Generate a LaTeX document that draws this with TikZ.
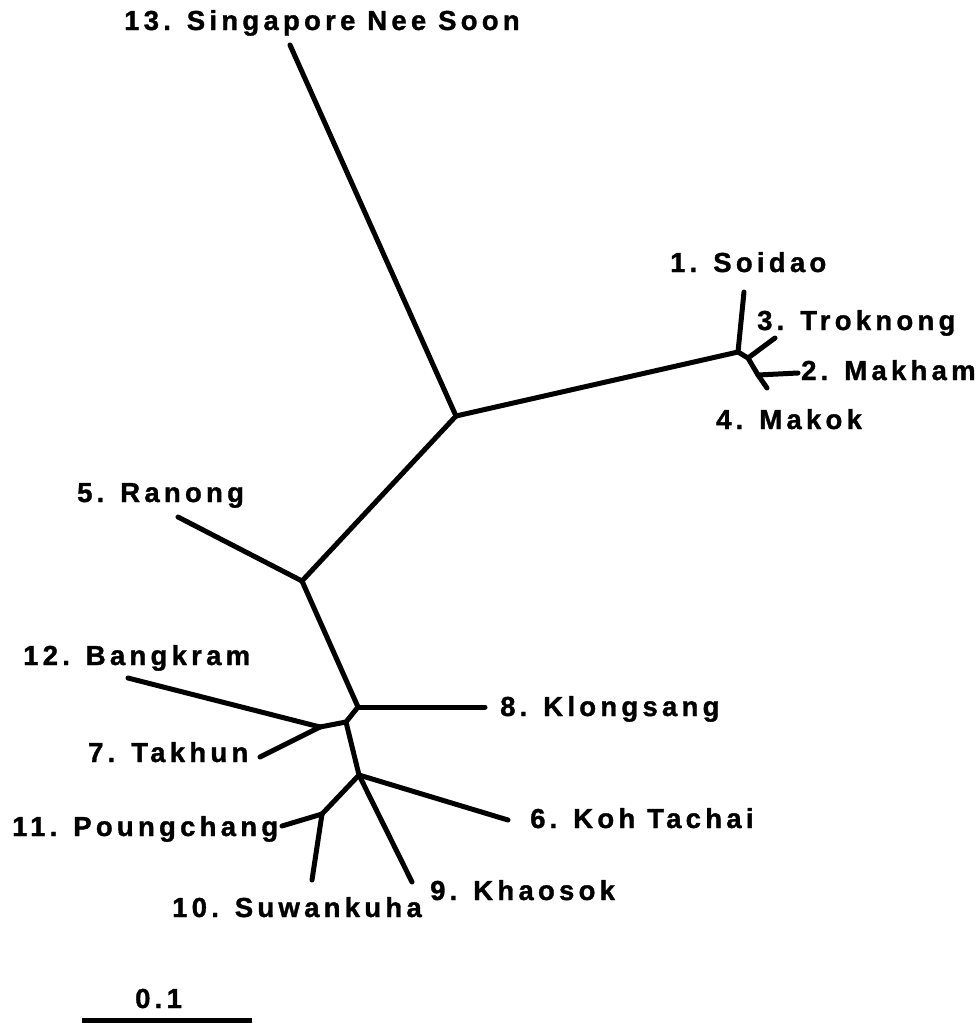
\documentclass[tikz,border=0pt]{standalone}
\usepackage{fontspec}
\newfontfamily\labfont{Liberation Sans}[LetterSpace=15.5, BoldFont={Liberation Sans Bold}, BoldFeatures={FakeBold=1.2}]
\tikzset{
  branch/.style={line width=5pt, line cap=round, line join=round},
  lab/.style={anchor=base west, inner sep=0pt, font=\labfont\bfseries\fontsize{27.5}{30}\selectfont}
}
\begin{document}
\begin{tikzpicture}[x=1pt,y=-1pt]
\useasboundingbox (0,0) rectangle (978,1023);
% internal nodes
\coordinate (R1) at (456,416);
\coordinate (R2) at (302,581);
\coordinate (D) at (358,707);
\coordinate (E) at (346,722);
\coordinate (F) at (320,727);
\coordinate (G) at (359,775);
\coordinate (I) at (322,814);
\coordinate (A) at (738,352);
\coordinate (B) at (748,358);
\coordinate (C) at (758,375);
% tips
\coordinate (t13) at (290,45);
\coordinate (t5) at (178,517);
\coordinate (t1) at (744,292);
\coordinate (t3) at (775,338);
\coordinate (t2) at (798,373);
\coordinate (t4) at (767,388);
\coordinate (t8) at (485,707);
\coordinate (t12) at (128,678);
\coordinate (t7) at (260,757);
\coordinate (t6) at (508,820);
\coordinate (t9) at (412,882);
\coordinate (t11) at (282,826);
\coordinate (t10) at (312,880);
% branches
\draw[branch] (t13) -- (R1);
\draw[branch] (R1) -- (A);
\draw[branch] (R1) -- (R2);
\draw[branch] (A) -- (t1);
\draw[branch] (A) -- (B);
\draw[branch] (B) -- (t3);
\draw[branch] (B) -- (C);
\draw[branch] (C) -- (t4);
\draw[branch] (C) -- (t2);
\draw[branch] (R2) -- (t5);
\draw[branch] (R2) -- (D);
\draw[branch] (D) -- (t8);
\draw[branch] (D) -- (E);
\draw[branch] (E) -- (F);
\draw[branch] (F) -- (t12);
\draw[branch] (F) -- (t7);
\draw[branch] (E) -- (G);
\draw[branch] (G) -- (t6);
\draw[branch] (G) -- (t9);
\draw[branch] (G) -- (I);
\draw[branch] (I) -- (t11);
\draw[branch] (I) -- (t10);
% labels
\node[lab] (l13) at (124,30) {13. Singapore Nee Soon};
\node[lab] (l1) at (670,272) {1. Soidao};
\node[lab] (l3) at (757,330) {3. Troknong};
\node[lab] (l2) at (801,380) {2. Makham};
\node[lab] (l4) at (716,429) {4. Makok};
\node[lab] (l5) at (77,502) {5. Ranong};
\node[lab] (l12) at (23,665) {12. Bangkram};
\node[lab] (l7) at (88,762) {7. Takhun};
\node[lab] (l8) at (500,716) {8. Klongsang};
\node[lab] (l6) at (530,828) {6. Koh Tachai};
\node[lab] (l11) at (12,836) {11. Poungchang};
\node[lab] (l10) at (172,917) {10. Suwankuha};
\node[lab] (l9) at (430,900) {9. Khaosok};
% scale bar
\coordinate (s1) at (82,1020);
\coordinate (s2) at (252,1020);
\draw[line width=5pt] (s1) -- (s2);
\node[lab] (ls) at (135,1008) {0.1};
\end{tikzpicture}
\end{document}
